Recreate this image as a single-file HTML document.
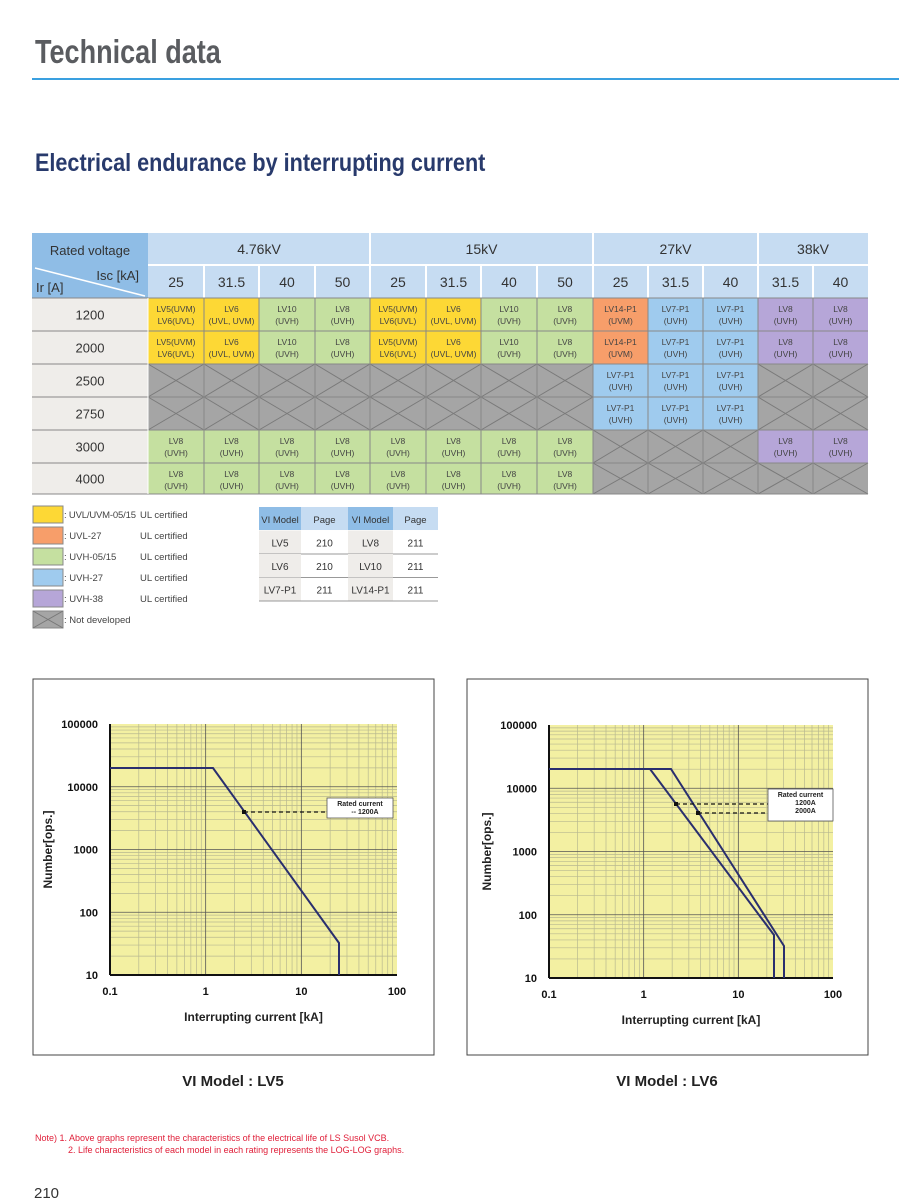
<!DOCTYPE html>
<html><head><meta charset="utf-8">
<style>
html,body{margin:0;padding:0;background:#fff;}
body{width:899px;height:1204px;position:relative;overflow:hidden;font-family:"Liberation Sans",sans-serif;}
svg{position:absolute;left:0;top:0;}
</style></head>
<body>
<svg id="s" width="899" height="1204" viewBox="0 0 899 1204" xmlns="http://www.w3.org/2000/svg" font-family="Liberation Sans, sans-serif">
<text x="35" y="63" font-size="33" font-weight="bold" fill="#5a5c60" transform="translate(35 0) scale(0.82 1) translate(-35 0)">Technical data</text>
<rect x="32" y="78" width="867" height="2" fill="#3aa0e0"/>
<text x="35" y="171" font-size="25" font-weight="bold" fill="#283a6c" transform="translate(35 0) scale(0.865 1) translate(-35 0)">Electrical endurance by interrupting current</text>
<g id="tbl"></g>
<g id="leg"></g>
<g id="c1"></g>
<g id="c2"></g>
<text x="233" y="1086" font-size="15" font-weight="bold" fill="#222" text-anchor="middle">VI Model : LV5</text>
<text x="667" y="1086" font-size="15" font-weight="bold" fill="#222" text-anchor="middle">VI Model : LV6</text>
<text x="35" y="1141" font-size="9" fill="#e0203a">Note) 1. Above graphs represent the characteristics of the electrical life of LS Susol VCB.</text>
<text x="68" y="1153" font-size="9" fill="#e0203a">2. Life characteristics of each model in each rating represents the LOG-LOG graphs.</text>
<text x="34" y="1198" font-size="15" fill="#333">210</text>
</svg>
<script>
const NS="http://www.w3.org/2000/svg";
function el(p,t,a,txt){const e=document.createElementNS(NS,t);for(const k in a)e.setAttribute(k,a[k]);if(txt!==undefined)e.textContent=txt;p.appendChild(e);return e;}
const T=document.getElementById('tbl');
const cols=[148,204,259,315,370,426,481,537,593,648,703,758,813,868];
const rows=[298,331,364,397,430,463,494];
el(T,'rect',{x:32,y:233,width:116,height:65,fill:'#8fbde6'});
el(T,'rect',{x:148,y:233,width:720,height:65,fill:'#c6dcf2'});
el(T,'line',{x1:35,y1:268,x2:145,y2:296,stroke:'#fff','stroke-width':1.5});
el(T,'text',{x:90,y:255,'font-size':13,'text-anchor':'middle',fill:'#333'},'Rated voltage');
el(T,'text',{x:139,y:280,'font-size':13,'text-anchor':'end',fill:'#333'},'Isc [kA]');
el(T,'text',{x:36,y:292,'font-size':13,fill:'#333'},'Ir [A]');
const volts=[['4.76kV',148,370],['15kV',370,593],['27kV',593,758],['38kV',758,868]];
volts.forEach(v=>{el(T,'text',{x:(v[1]+v[2])/2,y:254,'font-size':14,'text-anchor':'middle',fill:'#333'},v[0]);});
const isc=['25','31.5','40','50','25','31.5','40','50','25','31.5','40','31.5','40'];
el(T,'line',{x1:148,y1:265,x2:868,y2:265,stroke:'#fff','stroke-width':2});
[370,593,758].forEach(x=>el(T,'line',{x1:x,y1:233,x2:x,y2:298,stroke:'#fff','stroke-width':2}));
for(let i=0;i<13;i++){ if(i>0)el(T,'line',{x1:cols[i],y1:265,x2:cols[i],y2:298,stroke:'#fff','stroke-width':2});
 el(T,'text',{x:(cols[i]+cols[i+1])/2,y:287,'font-size':14,'text-anchor':'middle',fill:'#333'},isc[i]);}
const Y='#fdd835',O='#f79e6a',G='#c5e0a0',B='#9fcbee',P='#b6a6d8',X='x';
const lab={Y5:['LV5(UVM)','LV6(UVL)'],Y6:['LV6','(UVL, UVM)'],G10:['LV10','(UVH)'],G8:['LV8','(UVH)'],O14:['LV14-P1','(UVM)'],B7:['LV7-P1','(UVH)'],P8:['LV8','(UVH)']};
const data=[
['1200',['Y5','Y6','G10','G8','Y5','Y6','G10','G8','O14','B7','B7','P8','P8']],
['2000',['Y5','Y6','G10','G8','Y5','Y6','G10','G8','O14','B7','B7','P8','P8']],
['2500',[X,X,X,X,X,X,X,X,'B7','B7','B7',X,X]],
['2750',[X,X,X,X,X,X,X,X,'B7','B7','B7',X,X]],
['3000',['G8','G8','G8','G8','G8','G8','G8','G8',X,X,X,'P8','P8']],
['4000',['G8','G8','G8','G8','G8','G8','G8','G8',X,X,X,X,X]]];
const colr={Y:Y,O:O,G:G,B:B,P:P};
data.forEach((r,ri)=>{const y0=rows[ri],y1=rows[ri+1],h=y1-y0;
 el(T,'rect',{x:32,y:y0,width:116,height:h,fill:'#efedea'});
 el(T,'text',{x:90,y:y0+h/2+5,'font-size':13,'text-anchor':'middle',fill:'#333'},r[0]);
 r[1].forEach((c,ci)=>{const x0=cols[ci],x1=cols[ci+1];
  if(c===X){el(T,'rect',{x:x0,y:y0,width:x1-x0,height:h,fill:'#a5a5a5'});
   el(T,'path',{d:`M${x0} ${y0}L${x1} ${y1}M${x1} ${y0}L${x0} ${y1}`,stroke:'#7a7a7a','stroke-width':1});}
  else{el(T,'rect',{x:x0,y:y0,width:x1-x0,height:h,fill:colr[c[0]]});
   const l=lab[c];el(T,'text',{x:(x0+x1)/2,y:y0+14,'font-size':8.5,'text-anchor':'middle',fill:'#444'},l[0]);
   el(T,'text',{x:(x0+x1)/2,y:y0+26,'font-size':8.5,'text-anchor':'middle',fill:'#444'},l[1]);}
 });
});
cols.slice(1,-1).forEach(x=>el(T,'line',{x1:x,y1:298,x2:x,y2:494,stroke:'#888','stroke-width':1}));
rows.forEach(y=>el(T,'line',{x1:32,y1:y,x2:868,y2:y,stroke:'#888','stroke-width':1}));
el(T,'line',{x1:148,y1:298,x2:148,y2:494,stroke:'#fff','stroke-width':1});
const L=document.getElementById('leg');
const lg=[[Y,': UVL/UVM-05/15','UL certified'],[O,': UVL-27','UL certified'],[G,': UVH-05/15','UL certified'],[B,': UVH-27','UL certified'],[P,': UVH-38','UL certified'],['#a5a5a5',': Not developed','']];
lg.forEach((g,i)=>{const y=506+i*21;el(L,'rect',{x:33,y:y,width:30,height:17,fill:g[0],stroke:'#888'});
 if(i==5)el(L,'path',{d:`M33 ${y}L63 ${y+17}M63 ${y}L33 ${y+17}`,stroke:'#777'});
 el(L,'text',{x:64,y:y+12,'font-size':9.5,fill:'#444',textLength:i==0?72:undefined},g[1]);el(L,'text',{x:140,y:y+12,'font-size':9.5,fill:'#444'},g[2]);});
L.querySelectorAll('text').forEach(t=>{if(t.getAttribute('textLength')==='undefined')t.removeAttribute('textLength');});
const tc=[259,301,348,393,438];
el(L,'rect',{x:259,y:507,width:42,height:23,fill:'#8fbde6'});el(L,'rect',{x:301,y:507,width:47,height:23,fill:'#c6dcf2'});
el(L,'rect',{x:348,y:507,width:45,height:23,fill:'#8fbde6'});el(L,'rect',{x:393,y:507,width:45,height:23,fill:'#c6dcf2'});
const tr=[['VI Model','Page','VI Model','Page'],['LV5','210','LV8','211'],['LV6','210','LV10','211'],['LV7-P1','211','LV14-P1','211']];
tr.forEach((r,ri)=>{const y=507+ri*23.5;
 if(ri>0){el(L,'rect',{x:259,y:y,width:42,height:23.5,fill:'#efedea'});el(L,'rect',{x:348,y:y,width:45,height:23.5,fill:'#efedea'});
  el(L,'line',{x1:259,y1:y+23.5,x2:438,y2:y+23.5,stroke:'#999'});}
 r.forEach((t,ci)=>el(L,'text',{x:(tc[ci]+tc[ci+1])/2,y:y+16,'font-size':ri==0?9.5:10,'text-anchor':'middle',fill:'#333'},t));});
function chart(g,bx,px0,px1,py0,py1,lines,dashes,leg){
 el(g,'rect',{x:bx,y:679,width:401,height:376,fill:'#fff',stroke:'#444','stroke-width':1});
 el(g,'rect',{x:px0,y:py0,width:px1-px0,height:py1-py0,fill:'#f3f0a2'});
 const dx=(px1-px0)/3,dy=(py1-py0)/4;
 for(let d=0;d<3;d++)for(let k=2;k<10;k++){const x=px0+dx*(d+Math.log10(k));el(g,'line',{x1:x,y1:py0,x2:x,y2:py1,stroke:'#b8b890','stroke-width':0.7});}
 for(let d=0;d<4;d++)for(let k=2;k<10;k++){const y=py1-dy*(d+Math.log10(k));el(g,'line',{x1:px0,y1:y,x2:px1,y2:y,stroke:'#b8b890','stroke-width':0.7});}
 for(let d=1;d<3;d++){const x=px0+dx*d;el(g,'line',{x1:x,y1:py0,x2:x,y2:py1,stroke:'#555','stroke-width':0.8});}
 for(let d=1;d<4;d++){const y=py1-dy*d;el(g,'line',{x1:px0,y1:y,x2:px1,y2:y,stroke:'#555','stroke-width':0.8});}
 el(g,'line',{x1:px0,y1:py0,x2:px0,y2:py1,stroke:'#111','stroke-width':2});
 el(g,'line',{x1:px0,y1:py1,x2:px1,y2:py1,stroke:'#111','stroke-width':2});
 ['0.1','1','10','100'].forEach((t,i)=>el(g,'text',{x:px0+dx*i,y:py1+20,'font-size':11,'font-weight':'bold','text-anchor':'middle',fill:'#111'},t));
 ['10','100','1000','10000','100000'].forEach((t,i)=>el(g,'text',{x:px0-12,y:py1-dy*i+4,'font-size':11,'font-weight':'bold','text-anchor':'end',fill:'#111'},t));
 el(g,'text',{x:(px0+px1)/2,y:py1+46,'font-size':12,'font-weight':'bold','text-anchor':'middle',fill:'#222'},'Interrupting current [kA]');
 const lx=px0-58,ly=(py0+py1)/2;
 el(g,'text',{x:lx,y:ly,'font-size':12,'font-weight':'bold','text-anchor':'middle',fill:'#222',transform:`rotate(-90 ${lx} ${ly})`},'Number[ops.]');
 lines.forEach(p=>el(g,'polyline',{points:p,fill:'none',stroke:'#2a2f6e','stroke-width':2}));
 dashes.forEach(d=>{el(g,'line',{x1:d[0],y1:d[2],x2:d[1],y2:d[2],stroke:'#111','stroke-width':1.3,'stroke-dasharray':'4 3'});el(g,'rect',{x:d[0]-2,y:d[2]-2,width:4,height:4,fill:'#111'});});
 el(g,'rect',{x:leg[0],y:leg[1],width:leg[2]-leg[0],height:leg[3]-leg[1],fill:'#fff',stroke:'#555','stroke-width':0.8});
 leg[4].forEach((t,i)=>el(g,'text',{x:(leg[0]+leg[2])/2+(i?5:0),y:leg[1]+8+i*8,'font-size':7,'font-weight':'bold','text-anchor':'middle',fill:'#222'},t));
}
chart(document.getElementById('c1'),33,110,397,724,975,
 ['110,768 213,768 339,943 339,975'],[[244,327,812]],[327,798,393,818,['Rated current','-- 1200A']]);
chart(document.getElementById('c2'),467,549,833,725,978,
 ['549,769 650,769 774,935 774,978','549,769 671,769 784,946 784,978'],[[676,781,804],[698,781,813]],[768,789,833,821,['Rated current','1200A','2000A']]);
</script>
</body></html>
